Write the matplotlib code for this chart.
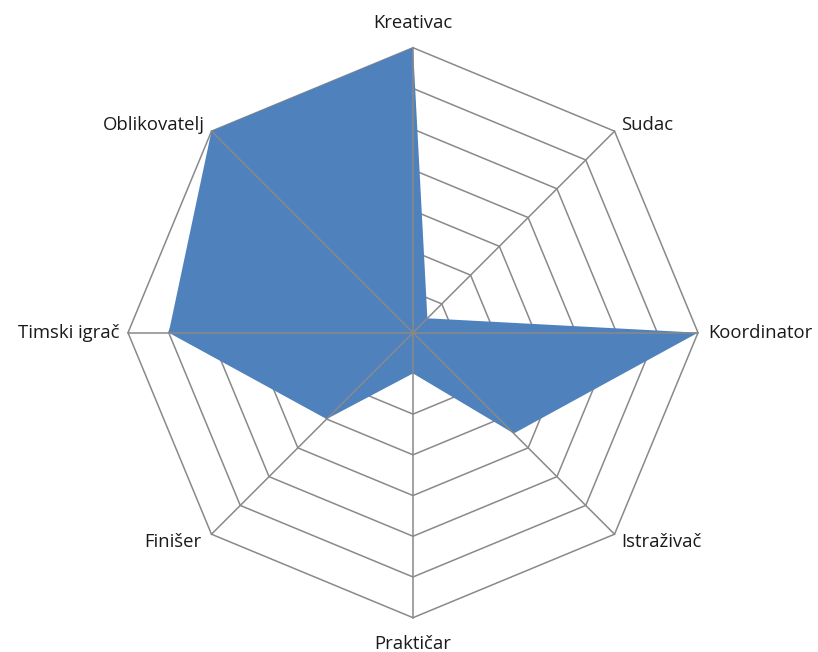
import numpy as np
import matplotlib
matplotlib.use("Agg")
import matplotlib.pyplot as plt

categories = ["Kreativac", "Sudac", "Koordinator", "Istraživač",
              "Praktičar", "Finišer", "Timski igrač", "Oblikovatelj"]
values = [7, 0.5, 7, 3.5, 1, 3, 6, 7]
max_value = 7
ring_levels = list(range(1, max_value + 1))

# label offsets in pixels from the outer vertex (dx, dy, ha)
label_offsets = [(0, 20, "center"), (7, 1, "left"), (10, -5, "left"),
                 (7, -13, "left"), (0, -31, "center"), (-10, -13, "right"),
                 (-8, -5, "right"), (-7, 1, "right")]

W, H, DPI = 818, 652, 100
cx, cy = 413.0, 652 - 332.7
scale = 285.0 / max_value

fig = plt.figure(figsize=(W / DPI, H / DPI), dpi=DPI)
ax = fig.add_axes([0, 0, 1, 1])
ax.set_xlim(-cx / scale, (W - cx) / scale)
ax.set_ylim(-cy / scale, (H - cy) / scale)
ax.set_aspect("equal")
ax.axis("off")

n = len(categories)
theta = np.arange(n) * 2 * np.pi / n
ux, uy = np.sin(theta), np.cos(theta)

grid_col = "#898989"
for lvl in ring_levels:
    ax.plot(np.append(ux, ux[0]) * lvl, np.append(uy, uy[0]) * lvl,
            color=grid_col, lw=1.1, zorder=1, solid_joinstyle="miter")

v = np.array(values, dtype=float)
ax.fill(ux * v, uy * v, color="#4F81BD", lw=0, zorder=2)

for i in range(n):
    ax.plot([0, ux[i] * max_value], [0, uy[i] * max_value],
            color=grid_col, lw=1.1, zorder=3)

for i, name in enumerate(categories):
    dx, dy, ha = label_offsets[i]
    ax.annotate(name, xy=(ux[i] * max_value, uy[i] * max_value),
                xytext=(dx, dy), textcoords="offset pixels",
                ha=ha, va="baseline", fontsize=13.3, family="Open Sans",
                color="#1a1a1a")

fig.savefig("out.png", dpi=DPI)
